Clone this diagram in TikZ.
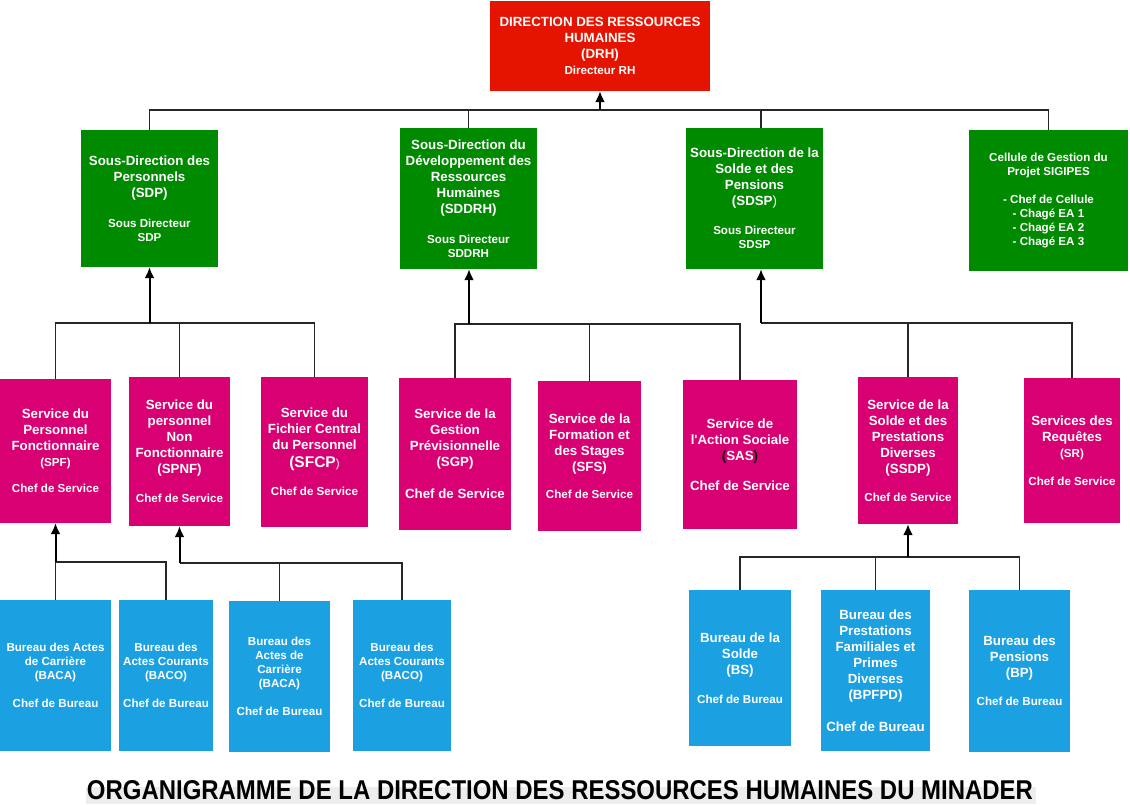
\documentclass[tikz,border=0pt]{standalone}
\usepackage{fontspec}
\setmainfont{Liberation Sans}
\usetikzlibrary{arrows.meta}
\definecolor{drhred}{RGB}{229,20,0}
\definecolor{sdgreen}{RGB}{0,138,0}
\definecolor{svpink}{RGB}{216,0,115}
\definecolor{bublue}{RGB}{27,161,226}
\newcommand{\fA}{\fontsize{13.3}{16}\selectfont}
\newcommand{\fB}{\fontsize{11.6}{16}\selectfont}
\newcommand{\fC}{\fontsize{11.6}{14}\selectfont}
\newcommand{\fE}{\fontsize{15.5}{16}\selectfont}
\tikzset{
  box/.style={rectangle, inner sep=0pt, align=center, text=white, font=\bfseries\fA},
  drhbox/.style={box, fill=drhred},
  sdbox/.style={box, fill=sdgreen},
  svbox/.style={box, fill=svpink},
  bubox/.style={box, fill=bublue},
  bubsmall/.style={box, fill=bublue, font=\bfseries\fC},
  link/.style={draw=black!85, line width=1.5pt},
  up/.style={draw=black, line width=2pt, -{Latex[length=11pt,width=10pt]}}
}
\begin{document}
\begin{tikzpicture}[x=1pt,y=-1pt]
\useasboundingbox (0,0) rectangle (1130,804);
% title band
\fill[black!7] (86,787) rectangle (1036,804);
\node[anchor=base, inner sep=0pt] (TITLE) at (560,799) {\resizebox{946pt}{19pt}{\bfseries ORGANIGRAMME DE LA DIRECTION DES RESSOURCES HUMAINES DU MINADER}};

% top
\node[drhbox, minimum width=220pt, minimum height=90pt] (DRH) at (600,46)
  {DIRECTION DES RESSOURCES\\HUMAINES\\(DRH)\\{\fB Directeur RH}};

% sous-directions
\node[sdbox, minimum width=137pt, minimum height=137pt] (SDP) at (149.5,198.5)
  {Sous-Direction des\\Personnels\\(SDP)\\[14pt]{\fB Sous Directeur}\\[-2pt]{\fB SDP}};
\node[sdbox, minimum width=137pt, minimum height=141pt] (SDDRH) at (468.5,198.5)
  {Sous-Direction du\\Développement des\\Ressources\\Humaines\\(SDDRH)\\[14pt]{\fB Sous Directeur}\\[-2pt]{\fB SDDRH}};
\node[sdbox, minimum width=137pt, minimum height=141pt] (SDSP) at (754.5,198.5)
  {Sous-Direction de la\\Solde et des\\Pensions\\(SDSP{\mdseries )}\\[13pt]{\fB Sous Directeur}\\[-2pt]{\fB SDSP}};
\node[sdbox, font=\bfseries\fC, minimum width=159pt, minimum height=141pt] (CELL) at (1048.5,200.5)
  {Cellule de Gestion du\\Projet SIGIPES\\[14pt]- Chef de Cellule\\- Chagé EA 1\\- Chagé EA 2\\- Chagé EA 3};

% services
\node[svbox, minimum width=111pt, minimum height=144pt] (SPF) at (55.5,451)
  {Service du\\Personnel\\Fonctionnaire\\{\fB (SPF)}\\[10pt]{\fB Chef de Service}};
\node[svbox, minimum width=101pt, minimum height=149pt] (SPNF) at (179.5,451.5)
  {Service du\\personnel\\Non\\Fonctionnaire\\(SPNF)\\[13pt]{\fB Chef de Service}};
\node[svbox, minimum width=107pt, minimum height=150pt] (SFCP) at (314.5,452)
  {Service du\\Fichier Central\\du Personnel\\[2pt]{\fE (SFCP}{\fB\mdseries )}\\[12pt]{\fB Chef de Service}};
\node[svbox, minimum width=112pt, minimum height=152pt] (SGP) at (455,454)
  {Service de la\\Gestion\\Prévisionnelle\\(SGP)\\[16pt]Chef de Service};
\node[svbox, minimum width=103pt, minimum height=150pt] (SFS) at (589.5,456)
  {Service de la\\Formation et\\des Stages\\(SFS)\\[11pt]{\fB Chef de Service}};
\node[svbox, minimum width=114pt, minimum height=149pt] (SAS) at (740,454.5)
  {Service de\\l\textquotesingle Action Sociale\\{\color{black}(}SAS{\color{black})}\\[14pt]Chef de Service};
\node[svbox, minimum width=100pt, minimum height=147pt] (SSDP) at (908,450.5)
  {Service de la\\Solde et des\\Prestations\\Diverses\\(SSDP)\\[12pt]{\fB Chef de Service}};
\node[svbox, minimum width=96pt, minimum height=145pt] (SR) at (1072,450.5)
  {Services des\\Requêtes\\{\fB (SR)}\\[12pt]{\fB Chef de Service}};

% bureaux
\node[bubsmall, minimum width=111pt, minimum height=151pt] (BACA1) at (55.5,675.5)
  {Bureau des Actes\\de Carrière\\(BACA)\\[14pt]Chef de Bureau};
\node[bubsmall, minimum width=94pt, minimum height=151pt] (BACO1) at (166,675.5)
  {Bureau des\\Actes Courants\\(BACO)\\[14pt]Chef de Bureau};
\node[bubsmall, minimum width=101pt, minimum height=151pt] (BACA2) at (279.5,676.5)
  {Bureau des\\Actes de\\Carrière\\(BACA)\\[14pt]Chef de Bureau};
\node[bubsmall, minimum width=98pt, minimum height=151pt] (BACO2) at (402,675.5)
  {Bureau des\\Actes Courants\\(BACO)\\[14pt]Chef de Bureau};
\node[bubox, minimum width=102pt, minimum height=156pt] (BS) at (740,668)
  {Bureau de la\\Solde\\(BS)\\[13pt]{\fB Chef de Bureau}};
\node[bubox, minimum width=109pt, minimum height=161pt] (BPFPD) at (875.5,670.5)
  {Bureau des\\Prestations\\Familiales et\\Primes\\Diverses\\(BPFPD)\\[16pt]Chef de Bureau};
\node[bubox, minimum width=101pt, minimum height=162pt] (BP) at (1019.5,671)
  {Bureau des\\Pensions\\(BP)\\[12pt]{\fB Chef de Bureau}};

% junctions
\coordinate (J0) at (600,110);
\coordinate (J1) at (149.5,323);
\coordinate (J2) at (469,324);
\coordinate (J3) at (761,323);
\coordinate (J4) at (55.5,562);
\coordinate (J5) at (179.5,563);
\coordinate (J6) at (908,557);

% connectors
\draw[link] (SDP.north) |- (J0);
\draw[link] (SDDRH.north) |- (J0);
\draw[link] ([xshift=6.5pt]SDSP.north) |- (J0);
\draw[link] (CELL.north) |- (J0);
\draw[up] (J0) -- (DRH.south);

\draw[link] (SPF.north) |- (J1);
\draw[link] (SPNF.north) |- (J1);
\draw[link] (SFCP.north) |- (J1);
\draw[up] (J1) -- (SDP.south);

\draw[link] (SGP.north) |- (J2);
\draw[link] (SFS.north) |- (J2);
\draw[link] (SAS.north) |- (J2);
\draw[up] (J2) -- (J2 |- SDDRH.south);

\draw[link] (SSDP.north) |- (J3);
\draw[link] (SR.north) |- (J3);
\draw[up] (J3) -- (J3 |- SDSP.south);

\draw[link] (BACA1.north) |- (J4);
\draw[link] (BACO1.north) |- (J4);
\draw[up] (J4) -- (SPF.south);

\draw[link] (BACA2.north) |- (J5);
\draw[link] (BACO2.north) |- (J5);
\draw[up] (J5) -- (SPNF.south);

\draw[link] (BS.north) |- (J6);
\draw[link] (BPFPD.north) |- (J6);
\draw[link] (BP.north) |- (J6);
\draw[up] (J6) -- (SSDP.south);
\end{tikzpicture}
\end{document}
